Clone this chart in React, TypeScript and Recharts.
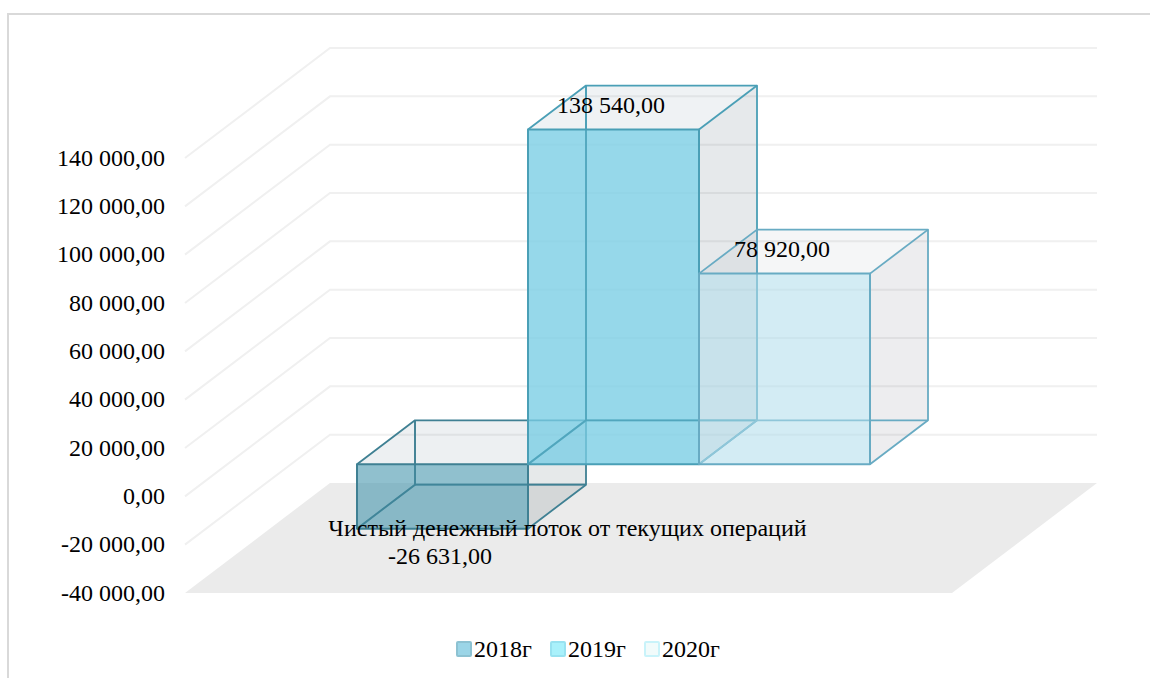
import React from 'react';
import { BarChart, Bar, XAxis, YAxis, CartesianGrid, Legend, LabelList } from 'recharts';

const categories = ['Чистый денежный поток от текущих операций'];
const years = ['2018г', '2019г', '2020г'];
const values2018 = [-26631];
const values2019 = [138540];
const values2020 = [78920];
const yTicks = [-40000, -20000, 0, 20000, 40000, 60000, 80000, 100000, 120000, 140000];

const tableData = categories.map((name, i) => ({
  name,
  y2018: values2018[i],
  y2019: values2019[i],
  y2020: values2020[i],
}));

const FONT_SIZE = 24;
const TEXT_FONT = '"Liberation Serif", "Times New Roman", serif';

// perspective offsets of the fake 3D box
const WALL_DX = 145;
const WALL_DY = 110;
const BAR_SHIFT_X = 45;
const BAR_SHIFT_Y = 32;
const DEPTH_X = 58;
const DEPTH_Y = 44;

const barStyles = [
  { front: 'rgba(70,150,174,0.60)', edge: '#3f8093', side: 'rgba(50,70,85,0.12)', top: 'rgba(50,85,115,0.09)', through: 0.6 },
  { front: 'rgba(120,205,228,0.78)', edge: '#4a9fb6', side: 'rgba(50,75,90,0.12)', top: 'rgba(50,85,115,0.08)', through: 0.8 },
  { front: 'rgba(175,221,235,0.55)', edge: '#68abc3', side: 'rgba(50,60,75,0.09)', top: 'rgba(50,75,105,0.05)', through: 0 },
];

const legendColors = [
  { fill: '#9bd5e7', border: '#8dc2d2' },
  { fill: '#a9f1fb', border: '#98e2f0' },
  { fill: '#f1fbfb', border: '#c9f3fa' },
];

function formatValue(v: number) {
  const sign = v < 0 ? '-' : '';
  const whole = Math.abs(v).toFixed(2).split('.');
  return sign + whole[0].replace(/\B(?=(\d{3})+$)/g, ' ') + ',' + whole[1];
}

function pts(list: number[][]) {
  return list.map((p) => p.join(',')).join(' ');
}

function makeBox(styleIndex: number) {
  return function BoxShape(props: any) {
    const s = barStyles[styleIndex];
    const left = props.x + BAR_SHIFT_X;
    const w = props.width;
    const top = Math.min(props.y, props.y + props.height) - BAR_SHIFT_Y;
    const bottom = Math.max(props.y, props.y + props.height) - BAR_SHIFT_Y;
    const right = left + w;
    const hidden = (
      <>
        <polyline
          points={pts([[left, bottom], [left + DEPTH_X, bottom - DEPTH_Y], [left + DEPTH_X, top - DEPTH_Y]])}
          fill="none"
          stroke={s.edge}
          strokeWidth={1.8}
        />
        <line x1={left + DEPTH_X} y1={bottom - DEPTH_Y} x2={right + DEPTH_X} y2={bottom - DEPTH_Y} stroke={s.edge} strokeWidth={1.8} />
      </>
    );
    return (
      <g strokeLinejoin="round">
        <polygon
          points={pts([[right, top], [right + DEPTH_X, top - DEPTH_Y], [right + DEPTH_X, bottom - DEPTH_Y], [right, bottom]])}
          fill={s.side}
        />
        <polygon
          points={pts([[left, top], [left + DEPTH_X, top - DEPTH_Y], [right + DEPTH_X, top - DEPTH_Y], [right, top]])}
          fill={s.top}
        />
        {hidden}
        <polyline
          points={pts([[left, top], [left + DEPTH_X, top - DEPTH_Y], [right + DEPTH_X, top - DEPTH_Y], [right + DEPTH_X, bottom - DEPTH_Y], [right, bottom]])}
          fill="none"
          stroke={s.edge}
          strokeWidth={1.8}
        />
        <line x1={right} y1={top} x2={right + DEPTH_X} y2={top - DEPTH_Y} stroke={s.edge} strokeWidth={1.8} />
        <rect x={left} y={top} width={w} height={bottom - top} fill={s.front} stroke={s.edge} strokeWidth={2} />
        {/* back edges show through the darker front faces */}
        {s.through > 0 && <g opacity={s.through}>{hidden}</g>}
      </g>
    );
  };
}

function renderValueLabel(props: any) {
  const v = Number(props.value);
  const cx = props.x + props.width / 2 + BAR_SHIFT_X - 2.5;
  const top = Math.min(props.y, props.y + props.height) - BAR_SHIFT_Y;
  const bottom = Math.max(props.y, props.y + props.height) - BAR_SHIFT_Y;
  const ty = v < 0 ? bottom + 27 : top - 25;
  return (
    <text x={cx} y={ty} textAnchor="middle" dominantBaseline="central" fontSize={FONT_SIZE} fontFamily={TEXT_FONT} fill="#000">
      {formatValue(v)}
    </text>
  );
}

// wall and back-plane gridlines, plus the floor under the lowest tick
function renderGridLine(props: any) {
  const { x1, x2, y1, key } = props;
  const isFloor = y1 >= props.y + props.height - 1;
  if (isFloor) {
    return (
      <polygon
        key={key}
        points={pts([[x1, y1], [x1 + WALL_DX, y1 - WALL_DY], [x2 + WALL_DX, y1 - WALL_DY], [x2, y1]])}
        fill="#ebebeb"
      />
    );
  }
  return (
    <polyline
      key={key}
      points={pts([[x1, y1], [x1 + WALL_DX, y1 - WALL_DY], [x2 + WALL_DX, y1 - WALL_DY]])}
      fill="none"
      stroke="#f0f0f0"
      strokeWidth={2}
    />
  );
}

function renderCategoryTick(props: any) {
  return (
    <text x={props.x - 1} y={528} textAnchor="middle" dominantBaseline="central" fontSize={FONT_SIZE} fontFamily={TEXT_FONT} fill="#000">
      {props.payload.value}
    </text>
  );
}

function YearLegend() {
  return (
    <div style={{ display: 'flex', alignItems: 'center', height: 30, fontFamily: TEXT_FONT, fontSize: FONT_SIZE, color: '#000' }}>
      {years.map((year, i) => (
        <div key={year} style={{ display: 'flex', alignItems: 'center', width: 94 }}>
          <span
            style={{
              width: 12,
              height: 12,
              marginRight: 2,
              background: legendColors[i].fill,
              border: `2px solid ${legendColors[i].border}`,
              borderRadius: 2,
            }}
          />
          {year}
        </div>
      ))}
    </div>
  );
}

export default function App() {
  return (
    <div style={{ position: 'absolute', left: 0, top: 0, width: 1150, height: 678, background: '#fff', overflow: 'hidden' }}>
      <div
        style={{
          position: 'absolute',
          left: 7,
          top: 13,
          right: 0,
          bottom: 0,
          borderTop: '2px solid #d9d9d9',
          borderLeft: '2px solid #d9d9d9',
        }}
      />
      <BarChart
        width={1150}
        height={678}
        data={tableData}
        margin={{ top: 158, right: 198, bottom: 14, left: 55 }}
        barCategoryGap={127}
        barGap={0}
        style={{ position: 'absolute', left: 0, top: 0 }}
      >
        <CartesianGrid horizontal={renderGridLine} vertical={false} />
        <XAxis dataKey="name" axisLine={false} tickLine={false} height={41} interval={0} tick={renderCategoryTick} />
        <YAxis
          width={130}
          domain={[-40000, 140000]}
          ticks={yTicks}
          interval={0}
          axisLine={false}
          tickLine={false}
          tickMargin={14}
          tickFormatter={formatValue}
          tick={{ fill: '#000', fontSize: FONT_SIZE, fontFamily: TEXT_FONT, dy: -1 }}
        />
        <Legend
          verticalAlign="bottom"
          height={30}
          content={<YearLegend />}
          wrapperStyle={{ left: 456, width: 300, bottom: 14 }}
        />
        <Bar dataKey="y2018" name={years[0]} shape={makeBox(0)} isAnimationActive={false}>
          <LabelList dataKey="y2018" content={renderValueLabel} />
        </Bar>
        <Bar dataKey="y2019" name={years[1]} shape={makeBox(1)} isAnimationActive={false}>
          <LabelList dataKey="y2019" content={renderValueLabel} />
        </Bar>
        <Bar dataKey="y2020" name={years[2]} shape={makeBox(2)} isAnimationActive={false}>
          <LabelList dataKey="y2020" content={renderValueLabel} />
        </Bar>
      </BarChart>
    </div>
  );
}
